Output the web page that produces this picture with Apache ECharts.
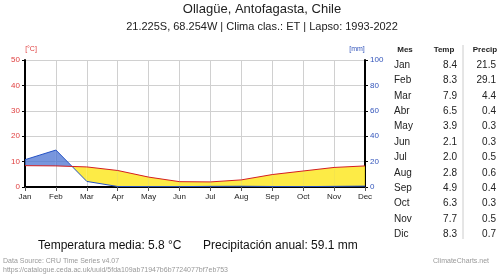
<!DOCTYPE html>
<html><head><meta charset="utf-8">
<script src="https://cdn.jsdelivr.net/npm/echarts@6/dist/echarts.min.js"></script>
<style>html,body{margin:0;padding:0;background:#fff}#c{width:500px;height:279px}</style>
</head><body><div id="c"></div>
<script>
var months = ['Jan','Feb','Mar','Apr','May','Jun','Jul','Aug','Sep','Oct','Nov','Dec'];
var tableMonths = ['Jan','Feb','Mar','Abr','May','Jun','Jul','Aug','Sep','Oct','Nov','Dic'];
var temp = [8.4, 8.3, 7.9, 6.5, 3.9, 2.1, 2.0, 2.8, 4.9, 6.3, 7.7, 8.3];
var precip = [21.5, 29.1, 4.4, 0.4, 0.3, 0.3, 0.5, 0.6, 0.4, 0.3, 0.5, 0.7];
var tempTicks = [0, 10, 20, 30, 40, 50];
var precipTicks = [0, 20, 40, 60, 80, 100];
var titleText = 'Ollagüe, Antofagasta, Chile';
var subtitleText = '21.225S, 68.254W | Clima clas.: ET | Lapso: 1993-2022';
var meanText = 'Temperatura media: 5.8 °C';
var annualText = 'Precipitación anual: 59.1 mm';

var FONT = '"Liberation Sans", Arial, sans-serif';
var YELLOW = 'rgba(253,233,50,0.9)';
var BLUE = 'rgba(75,115,210,0.75)';
var chart = echarts.init(document.getElementById('c'));

var segs = [];
for (var i = 0; i < months.length - 1; i++) segs.push([i]);

function renderFill(params, api) {
  var i = api.value(0);
  var t0 = temp[i], t1 = temp[i+1], p0 = precip[i]/2, p1 = precip[i+1]/2;
  var d0 = t0 - p0, d1 = t1 - p1;
  var ch = [];
  function poly(pts, color) {
    ch.push({type:'polygon', silent:true, shape:{points: pts.map(function(p){return api.coord(p);})}, style:{fill: color}});
  }
  if (d0 >= 0 && d1 >= 0) poly([[i,t0],[i+1,t1],[i+1,p1],[i,p0]], YELLOW);
  else if (d0 <= 0 && d1 <= 0) poly([[i,p0],[i+1,p1],[i+1,t1],[i,t0]], BLUE);
  else {
    var s = d0/(d0-d1), xc = i + s, yc = t0 + s*(t1-t0);
    poly([[i,t0],[xc,yc],[i,p0]], d0 > 0 ? YELLOW : BLUE);
    poly([[xc,yc],[i+1,t1],[i+1,p1]], d1 > 0 ? YELLOW : BLUE);
  }
  return {type:'group', children: ch};
}

var graphics = [];
graphics.push({type:'text', x: 262, y: 3, style:{text: titleText, font: '13px ' + FONT, fill:'#222', align:'center'}});
graphics.push({type:'text', x: 262, y: 21, style:{text: subtitleText, font: '11px ' + FONT, fill:'#222', align:'center'}});
graphics.push({type:'text', x: 31, y: 46, style:{text: '[°C]', font: '7px ' + FONT, fill:'#e04040', align:'center'}});
graphics.push({type:'text', x: 357, y: 46, style:{text: '[mm]', font: '7px ' + FONT, fill:'#3355bb', align:'center'}});
// table
var hx = [405, 444, 485];
var hdr = ['Mes', 'Temp', 'Precip'];
for (var h = 0; h < 3; h++) {
  graphics.push({type:'text', x: hx[h], y: 46, style:{text: hdr[h], font: 'bold 8px ' + FONT, fill:'#222', align:'center'}});
}
graphics.push({type:'line', shape:{x1:463, y1:45, x2:463, y2:239}, style:{stroke:'#ccc', lineWidth:1}});
for (var r = 0; r < 12; r++) {
  var y = 60 + r * 15.4;
  graphics.push({type:'text', x: 394, y: y, style:{text: tableMonths[r], font: '10px ' + FONT, fill:'#222', align:'left'}});
  graphics.push({type:'text', x: 457, y: y, style:{text: temp[r].toFixed(1), font: '10px ' + FONT, fill:'#222', align:'right'}});
  graphics.push({type:'text', x: 496, y: y, style:{text: precip[r].toFixed(1), font: '10px ' + FONT, fill:'#222', align:'right'}});
}
graphics.push({type:'text', x: 38, y: 240, style:{text: meanText, font: '12px ' + FONT, fill:'#111'}});
graphics.push({type:'text', x: 203, y: 240, style:{text: annualText, font: '12px ' + FONT, fill:'#111'}});
graphics.push({type:'text', x: 3, y: 258, style:{text: 'Data Source: CRU Time Series v4.07', font: '7px ' + FONT, fill:'#999'}});
graphics.push({type:'text', x: 3, y: 267, style:{text: 'https://catalogue.ceda.ac.uk/uuid/5fda109ab71947b6b7724077bf7eb753', font: '7px ' + FONT, fill:'#999'}});
graphics.push({type:'text', x: 433, y: 258, style:{text: 'ClimateCharts.net', font: '7px ' + FONT, fill:'#999'}});

chart.setOption({
  animation: false,
  textStyle: {fontFamily: FONT},
  grid: {left: 25, right: 135, top: 60, bottom: 92, containLabel: false},
  xAxis: {
    type: 'value', min: 0, max: 11, interval: 1,
    axisLine: {show: true, lineStyle: {color: '#000', width: 2}},
    axisTick: {show: true, length: 4, lineStyle: {color: '#555'}},
    axisLabel: {formatter: function(v){return months[v] || '';}, color: '#222', fontSize: 8, margin: 6},
    splitLine: {show: true, lineStyle: {color: '#d0d0d0'}}
  },
  yAxis: [{
    type: 'value', min: tempTicks[0], max: tempTicks[tempTicks.length-1], interval: 10, position: 'left',
    axisLine: {show: true, lineStyle: {color: '#000', width: 2}},
    axisTick: {show: true, length: 3, lineStyle: {color: '#000'}},
    axisLabel: {color: '#e04040', fontSize: 8, margin: 5},
    splitLine: {show: true, lineStyle: {color: '#d0d0d0'}}
  }, {
    type: 'value', min: precipTicks[0], max: precipTicks[precipTicks.length-1], interval: 20, position: 'right',
    axisLine: {show: true, lineStyle: {color: '#000', width: 2}},
    axisTick: {show: true, length: 3, lineStyle: {color: '#000'}},
    axisLabel: {color: '#3355bb', fontSize: 8, margin: 5},
    splitLine: {show: false}
  }],
  series: [{
    type: 'custom', renderItem: renderFill, data: segs, z: 1, silent: true,
    encode: {x: 0}, clip: true
  }, {
    type: 'line', yAxisIndex: 1, data: precip.map(function(v,i){return [i, v];}),
    symbol: 'none', lineStyle: {color: '#2552c4', width: 1}, z: 3
  }, {
    type: 'line', yAxisIndex: 0, data: temp.map(function(v,i){return [i, v];}),
    symbol: 'none', lineStyle: {color: '#d41f1f', width: 1}, z: 4
  }],
  graphic: graphics
});
</script>
</body></html>
